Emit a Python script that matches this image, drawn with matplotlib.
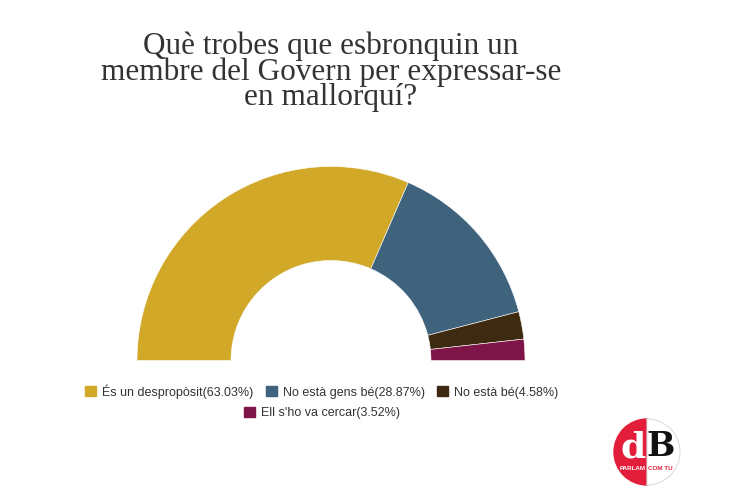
import matplotlib.pyplot as plt
from matplotlib.patches import Wedge

labels = ['És un despropòsit', 'No està gens bé', 'No està bé', "Ell s'ho va cercar"]
shares = [63.03, 28.87, 4.58, 3.52]
colors = ['#D1A827', '#3F627D', '#3D2A10', '#7E1549']

title = 'Què trobes que esbronquin un\nmembre del Govern per expressar-se\nen mallorquí?'

W, H = 730, 500
fig = plt.figure(figsize=(W / 100, H / 100), dpi=100)
ax = fig.add_axes([0, 0, 1, 1])

# half donut: the hidden wedge fills the lower half
vals = shares + [sum(shares)]
wedges, _ = ax.pie(vals, colors=colors + ['none'], startangle=180, counterclock=False,
                   center=(331, H - 360.5), radius=194,
                   wedgeprops=dict(width=94, edgecolor='white', linewidth=0.4))
wedges[-1].set_edgecolor('none')

ax.set_xlim(0, W)
ax.set_ylim(0, H)
ax.set_aspect('equal')
ax.axis('off')

ax.text(331, H - 72, title, ha='center', va='center', fontsize=22.5,
        family='Liberation Serif', color='#333333', linespacing=0.84)

# legend, 3 items then 1 centered
handles = [plt.Rectangle((0, 0), 1, 1, color=c) for c in colors]
names = ['%s(%.2f%%)' % (l, s) for l, s in zip(labels, shares)]
leg_kw = dict(frameon=False, handlelength=0.85, handleheight=0.85, handletextpad=0.5,
              columnspacing=1.0, prop={'family': 'Liberation Sans', 'size': 9})
leg1 = fig.legend(handles[:3], names[:3], ncol=3, loc='center',
                  bbox_to_anchor=(322 / W, 1 - 391.5 / H), **leg_kw)
for t in leg1.get_texts():
    t.set_color('#333333')
leg2 = fig.legend(handles[3:], names[3:], ncol=1, loc='center',
                  bbox_to_anchor=(322 / W, 1 - 413 / H), **leg_kw)
for t in leg2.get_texts():
    t.set_color('#333333')

# dB logo
cx, cy, r = 647, H - 452, 33
ax.add_patch(Wedge((cx, cy), r, 90, 270, color='#E31E3A'))
ax.add_patch(Wedge((cx, cy), r, 270, 90, facecolor='white', edgecolor='#dddddd', linewidth=0.8))
ax.text(cx - 1, cy + 5, 'd', ha='right', va='center', fontsize=26, family='DejaVu Serif',
        fontweight='bold', color='white')
ax.text(cx - 1, cy + 5, 'B', ha='left', va='center', fontsize=24, family='DejaVu Serif',
        fontweight='bold', color='#111111')
ax.text(cx - 1, cy - 16, 'PARLAM', ha='right', va='center', fontsize=4.5,
        family='Liberation Sans', fontweight='bold', color='white')
ax.text(cx + 1, cy - 16, 'COM TU', ha='left', va='center', fontsize=4.5,
        family='Liberation Sans', fontweight='bold', color='#E31E3A')

fig.savefig('out.png', dpi=100)
